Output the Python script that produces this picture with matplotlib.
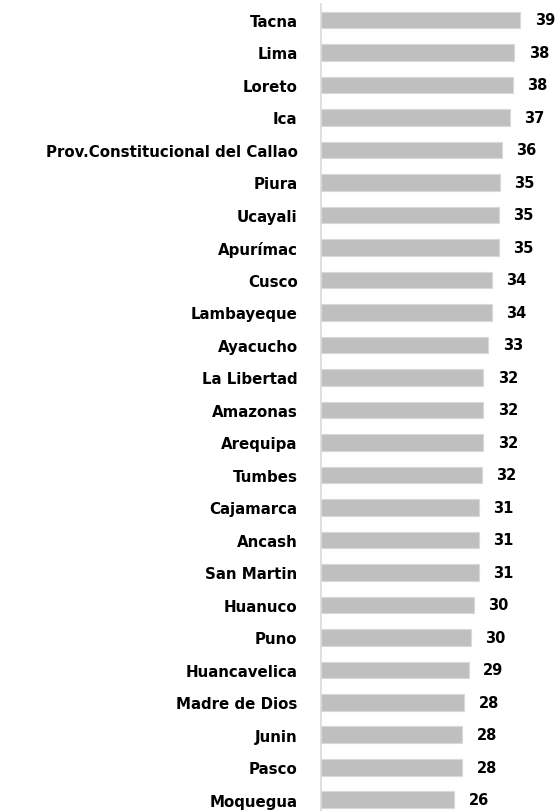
import matplotlib.pyplot as plt
import numpy as np

regiones = ['Tacna', 'Lima', 'Loreto', 'Ica', 'Prov.Constitucional del Callao',
            'Piura', 'Ucayali', 'Apurímac', 'Cusco', 'Lambayeque', 'Ayacucho',
            'La Libertad', 'Amazonas', 'Arequipa', 'Tumbes', 'Cajamarca', 'Ancash',
            'San Martin', 'Huanuco', 'Puno', 'Huancavelica', 'Madre de Dios',
            'Junin', 'Pasco', 'Moquegua']
valores = [39.4, 38.2, 37.9, 37.3, 35.7, 35.3, 35.1, 35.1, 33.7, 33.7, 33.1,
           32.1, 32.1, 32.1, 31.8, 31.2, 31.2, 31.2, 30.2, 29.6, 29.2, 28.3,
           27.9, 27.9, 26.3]

fig = plt.figure(figsize=(5.59, 8.12), dpi=100)
# eje un poco mas alto que la figura, abajo queda cortado como en el original
ax = fig.add_axes([320.5 / 559, -5.0 / 812, 233.5 / 559, 812.3 / 812])

y = np.arange(len(regiones))
ax.barh(y, valores, height=0.51, color='#bfbfbf', edgecolor='#d9d9d9', linewidth=0.8)

for i, v in enumerate(valores):
    ax.annotate('{:.0f}'.format(v), (v, i), xytext=(10.5, 0), textcoords='offset points',
                ha='left', va='center', fontsize=10.5, fontweight='bold', color='black',
                annotation_clip=False)

ax.set_ylim(len(regiones) - 0.5, -0.5)
ax.set_xlim(0, 233.5 / 5.075)
ax.set_yticks(y)
ax.set_yticklabels(regiones, fontsize=10.8, fontweight='bold')
ax.tick_params(axis='y', length=0, pad=16.5)
ax.set_xticks([])

for s in ['top', 'right', 'bottom']:
    ax.spines[s].set_visible(False)
ax.spines['left'].set_color('#d9d9d9')
ax.spines['left'].set_linewidth(1.2)

plt.savefig('out.png', dpi=100)
